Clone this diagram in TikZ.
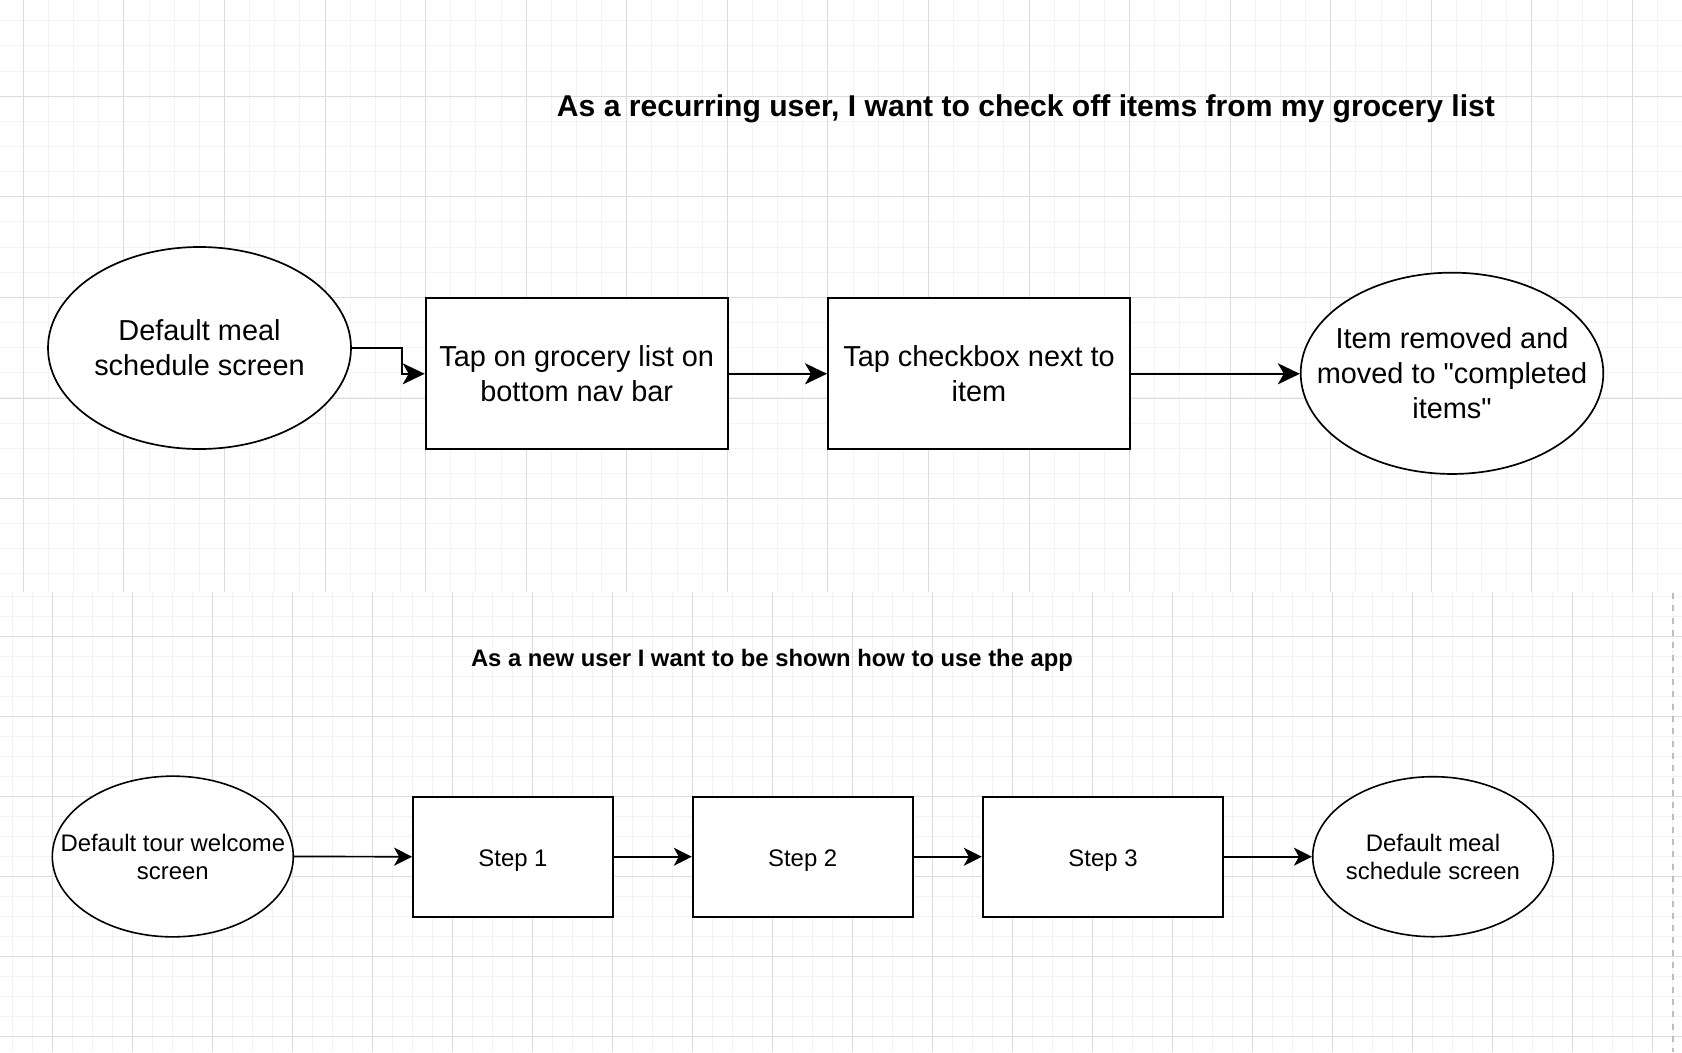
\documentclass[tikz,border=0pt]{standalone}
\usepackage{fontspec}
\setmainfont{Liberation Sans}
\newfontfamily\qfont{Liberation Sans}[Ligatures=TeXOff]
\usetikzlibrary{arrows.meta,shapes.geometric}
\definecolor{gridmajor}{RGB}{220,220,220}
\definecolor{gridminor}{RGB}{243,243,243}
\definecolor{dashgray}{RGB}{190,190,190}
\newcommand{\dq}{{\qfont"}}
\tikzset{
  minorline/.style={draw=gridminor,line width=1bp},
  majorline/.style={draw=gridmajor,line width=1bp},
  bigbox/.style={draw=black,fill=white,line width=2bp,rectangle,inner sep=0pt,align=center,font=\fontsize{29}{35}\selectfont},
  bigoval/.style={draw=black,fill=white,line width=1.7bp,ellipse,inner xsep=-60bp,inner ysep=0pt,align=center,font=\fontsize{29}{35}\selectfont},
  smallbox/.style={draw=black,fill=white,line width=1.8bp,rectangle,inner sep=0pt,align=center,text height=20bp,text depth=0bp,font=\fontsize{24}{28}\selectfont},
  smalloval/.style={draw=black,fill=white,line width=1.6bp,ellipse,inner xsep=-60bp,inner ysep=0pt,align=center,font=\fontsize{24}{28}\selectfont},
  bigarrow/.style={draw=black,line width=2bp,-{Stealth[length=22bp,width=21bp,inset=6bp]}},
  smallarrow/.style={draw=black,line width=1.7bp,-{Stealth[length=18bp,width=18bp,inset=5bp]}},
  titletext/.style={anchor=base,inner sep=0pt,font=\bfseries\fontsize{30.2}{36}\selectfont},
  subtitletext/.style={anchor=base,inner sep=0pt,font=\bfseries\fontsize{23.9}{29}\selectfont}
}
\begin{document}
\begin{tikzpicture}[x=1bp,y=-1bp]
\useasboundingbox (0,0) rectangle (1682,1052);
\fill[white] (0,0) rectangle (1682,1052);
% ---- top section grid ----
\foreach \i in {0,...,67} { \draw[minorline] ({-1.84+25.143*\i},0) -- ++(0,591.7); }
\foreach \j in {1,...,23} { \draw[minorline] (0,{-4.3+25.143*\j}) -- ++(1682,0); }
\foreach \k in {0,...,16} { \draw[majorline] ({23.3+100.57*\k},0) -- ++(0,591.7); }
\foreach \k in {0,...,4} { \draw[majorline] (0,{96.3+100.57*\k}) -- ++(1682,0); }
% ---- bottom section grid ----
\foreach \i in {0,...,83} { \draw[minorline] ({12.4+20*\i},591.7) -- ({12.4+20*\i},1052); }
\foreach \j in {0,...,22} { \draw[minorline] (0,{596.3+20*\j}) -- ++(1682,0); }
\foreach \k in {0,...,20} { \draw[majorline] ({52.4+80*\k},591.7) -- ({52.4+80*\k},1052); }
\foreach \k in {0,...,5} { \draw[majorline] (0,{636.3+80*\k}) -- ++(1682,0); }
\draw[dashgray,line width=2bp,dash pattern=on 6bp off 6.3bp] (1672.7,593) -- (1672.7,1052);
% ---- titles ----
\node[titletext] (t1) at (1026,116.7) {As a recurring user, I want to check off items from my grocery list};
\node[subtitletext] (t2) at (772,666) {As a new user I want to be shown how to use the app};
% ---- top flow ----
\node[bigoval,minimum width=303bp,minimum height=202bp] (e1) at (199.5,348) {Default meal\\schedule screen};
\node[bigbox,minimum width=302bp,minimum height=151bp] (b1) at (576.7,373.8) {Tap on grocery list on\\bottom nav bar};
\node[bigbox,minimum width=302bp,minimum height=151bp] (b2) at (979,373.8) {Tap checkbox next to\\item};
\node[bigoval,minimum width=302.6bp,minimum height=201.3bp] (e3) at (1452,373.3) {Item removed and\\moved to \dq completed\\items\dq};
\draw[bigarrow] (e1.east) -- ++(50,0) |- (b1.west);
\draw[bigarrow] (b1.east) -- (b2.west);
\draw[bigarrow] (b2.east) -- (b2.east -| e3.west);
% ---- bottom flow ----
\node[smalloval,minimum width=241bp,minimum height=160.7bp] (e2) at (172.8,856.5) {Default tour welcome\\screen};
\node[smallbox,minimum width=200bp,minimum height=120bp] (s1) at (513,856.7) {Step 1};
\node[smallbox,minimum width=220bp,minimum height=120bp] (s2) at (802.7,856.7) {Step 2};
\node[smallbox,minimum width=240.6bp,minimum height=120bp] (s3) at (1103,856.7) {Step 3};
\node[smalloval,minimum width=240.6bp,minimum height=160bp] (e4) at (1433,856.7) {Default meal\\schedule screen};
\draw[smallarrow] (e2.east) -- (s1.west);
\draw[smallarrow] (s1.east) -- (s2.west);
\draw[smallarrow] (s2.east) -- (s3.west);
\draw[smallarrow] (s3.east) -- (e4.west);
\end{tikzpicture}
\end{document}
